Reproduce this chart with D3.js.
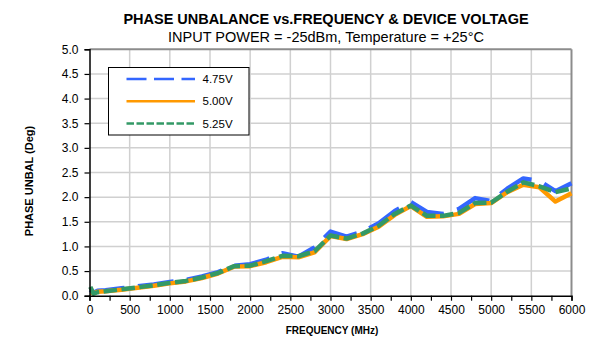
<!DOCTYPE html>
<html>
<head>
<meta charset="utf-8">
<script src="https://cdn.jsdelivr.net/npm/d3@7/dist/d3.min.js"></script>
<style>
  html, body { margin: 0; padding: 0; background: #fff; }
  svg { display: block; font-family: "Liberation Sans", Arial, sans-serif; }
</style>
</head>
<body>
<svg id="chart" width="591" height="339"></svg>
<script>
// Frequency points (MHz)
const freq = [10, 50, 100, 200, 400, 600, 800, 1000, 1200, 1400, 1600, 1800, 2000,
  2200, 2400, 2600, 2800, 3000, 3200, 3400, 3600, 3800, 4000, 4200, 4400, 4600,
  4800, 5000, 5200, 5400, 5600, 5800, 6000];

// Phase unbalance (deg) per supply voltage
const v475 = [0.12, 0.06, 0.10, 0.11, 0.15, 0.19, 0.23, 0.28, 0.32, 0.39, 0.48, 0.61, 0.64,
  0.73, 0.86, 0.79, 0.98, 1.30, 1.20, 1.30, 1.47, 1.72, 1.90, 1.70, 1.66, 1.76,
  1.98, 1.92, 2.17, 2.38, 2.33, 2.12, 2.28];
const v500 = [0.06, 0.05, 0.08, 0.09, 0.12, 0.16, 0.20, 0.25, 0.29, 0.36, 0.45, 0.59, 0.60,
  0.68, 0.79, 0.78, 0.88, 1.21, 1.15, 1.25, 1.40, 1.64, 1.82, 1.60, 1.61, 1.66,
  1.86, 1.88, 2.10, 2.25, 2.20, 1.91, 2.08];
const v525 = [0.18, 0.04, 0.07, 0.09, 0.13, 0.17, 0.21, 0.26, 0.30, 0.37, 0.46, 0.60, 0.61,
  0.70, 0.81, 0.80, 0.90, 1.22, 1.16, 1.26, 1.42, 1.66, 1.83, 1.62, 1.62, 1.68,
  1.88, 1.89, 2.11, 2.30, 2.22, 2.10, 2.18];

const seriesNames = ["4.75V", "5.00V", "5.25V"];
const seriesColors = ["#3366ff", "#ff9900", "#339966"];

const xTicks = [0, 500, 1000, 1500, 2000, 2500, 3000, 3500, 4000, 4500, 5000, 5500, 6000];
const yTicks = [0, 0.5, 1.0, 1.5, 2.0, 2.5, 3.0, 3.5, 4.0, 4.5, 5.0];

const titleText = "PHASE UNBALANCE vs.FREQUENCY & DEVICE VOLTAGE";
const subtitleText = "INPUT POWER = -25dBm, Temperature = +25°C";
const xTitle = "FREQUENCY (MHz)";
const yTitle = "PHASE UNBAL (Deg)";

const svg = d3.select("#chart");
const plot = { left: 89.5, right: 571.5, top: 49.3, bottom: 295.7 };

const x = d3.scaleLinear().domain([0, 6000]).range([plot.left, plot.right]);
const y = d3.scaleLinear().domain([0, 5]).range([plot.bottom, plot.top]);

// Gridlines
const grid = svg.append("g");
grid.selectAll("line.gx").data(xTicks.slice(1, -1)).join("line")
  .attr("x1", d => x(d)).attr("x2", d => x(d))
  .attr("y1", plot.top).attr("y2", plot.bottom)
  .attr("stroke", "#d0d0d0").attr("stroke-width", 1.5);
grid.selectAll("line.gy").data(yTicks.slice(1, -1)).join("line")
  .attr("x1", plot.left).attr("x2", plot.right)
  .attr("y1", d => y(d)).attr("y2", d => y(d))
  .attr("stroke", "#d0d0d0").attr("stroke-width", 1.5);

// Plot frame (top and right)
svg.append("line").attr("x1", plot.left).attr("x2", plot.right)
  .attr("y1", plot.top).attr("y2", plot.top)
  .attr("stroke", "#8c8c8c").attr("stroke-width", 2);
svg.append("line").attr("x1", plot.right).attr("x2", plot.right)
  .attr("y1", plot.top).attr("y2", plot.bottom)
  .attr("stroke", "#8c8c8c").attr("stroke-width", 2);

// Series lines
const lineGen = vals => d3.line()
  .x((d, i) => x(freq[i]))
  .y(d => y(d))(vals);

const dashes = ["36,13.5", null, "13.5,4.5"];
[v475, v500, v525].forEach((vals, k) => {
  svg.append("path")
    .attr("d", lineGen(vals))
    .attr("fill", "none")
    .attr("stroke", seriesColors[k])
    .attr("stroke-width", 4.5)
    .attr("stroke-linejoin", "round")
    .attr("stroke-dasharray", dashes[k]);
});

// Axes
const xAxis = d3.axisBottom(x).tickValues(d3.range(0, 6001, 250))
  .tickSize(5).tickFormat(d => (d % 500 === 0 ? d : ""));
const gx = svg.append("g").attr("transform", `translate(0,${plot.bottom})`).call(xAxis);
gx.select(".domain").attr("stroke", "#000").attr("stroke-width", 1.5);
gx.selectAll(".tick line").attr("stroke", "#000").attr("stroke-width", 1.2);
gx.selectAll(".tick text").attr("font-size", 12).attr("fill", "#000").attr("dy", "0.85em");

const yAxis = d3.axisLeft(y).tickValues(yTicks).tickSize(5).tickFormat(d3.format(".1f"));
const gy = svg.append("g").attr("transform", `translate(${plot.left},0)`).call(yAxis);
gy.select(".domain").attr("stroke", "#000").attr("stroke-width", 1.5);
gy.selectAll(".tick line").attr("stroke", "#000").attr("stroke-width", 1.2);
gy.selectAll(".tick text").attr("font-size", 12).attr("fill", "#000").attr("x", -11);
svg.selectAll(".tick text").attr("font-family", "Liberation Sans, Arial, sans-serif");

// Titles
svg.append("text").attr("x", 326).attr("y", 23.5).attr("text-anchor", "middle")
  .attr("font-size", 14.5).attr("font-weight", "bold").text(titleText);
svg.append("text").attr("x", 326).attr("y", 42).attr("text-anchor", "middle")
  .attr("font-size", 14.5).text(subtitleText);
svg.append("text").attr("x", 332).attr("y", 334).attr("text-anchor", "middle")
  .attr("font-size", 10).attr("font-weight", "bold").text(xTitle);
svg.append("text").attr("transform", "translate(33,181) rotate(-90)")
  .attr("text-anchor", "middle").attr("font-size", 11).attr("font-weight", "bold")
  .text(yTitle);

// Legend
const lg = svg.append("g");
lg.append("rect").attr("x", 108.5).attr("y", 67.5).attr("width", 140.5).attr("height", 67.5)
  .attr("fill", "#fff").attr("stroke", "#000").attr("stroke-width", 1);
const legendDashes = ["20,7.5", null, "7.5,2.5"];
seriesNames.forEach((name, k) => {
  const ly = 79 + k * 22.3;
  lg.append("line").attr("x1", 126.5).attr("x2", 195).attr("y1", ly).attr("y2", ly)
    .attr("stroke", seriesColors[k]).attr("stroke-width", 2.5)
    .attr("stroke-dasharray", legendDashes[k]);
  lg.append("text").attr("x", 202.5).attr("y", ly + 4).attr("font-size", 11.5)
    .text(name);
});
</script>
</body>
</html>
